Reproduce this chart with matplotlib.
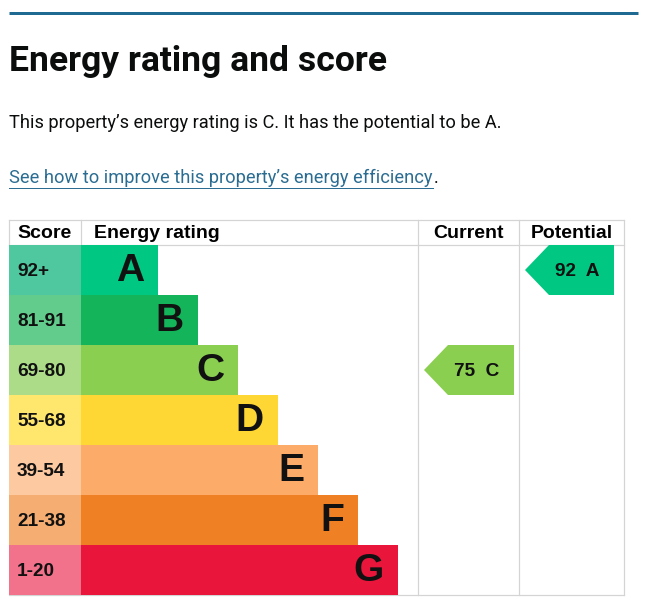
import matplotlib.pyplot as plt
from matplotlib.patches import Polygon

# data
bands = ['A', 'B', 'C', 'D', 'E', 'F', 'G']
score_ranges = ['92+', '81-91', '69-80', '55-68', '39-54', '21-38', '1-20']
band_low = [92, 81, 69, 55, 39, 21, 1]
bar_colors = ['#00c781', '#14b45a', '#8acf50', '#fed734', '#fcab69', '#ef8023', '#e9153b']
score_colors = ['#4fc8a0', '#62cc8c', '#acdc88', '#ffe66c', '#fdc9a0', '#f6ad72', '#f2728c']
current_score = 75
potential_score = 92
headers = ['Score', 'Energy rating', 'Current', 'Potential']

title = 'Energy rating and score'
summary = 'This property\u2019s energy rating is C. It has the potential to be A.'
link = 'See how to improve this property\u2019s energy efficiency'

W, H = 654, 609
PT = 0.72  # points per pixel at dpi 100

fig = plt.figure(figsize=(W / 100, H / 100), dpi=100)
ax = fig.add_axes([0, 0, 1, 1])
ax.set_xlim(0, W)
ax.set_ylim(H, 0)
ax.axis('off')

# top rule + page text
ax.plot([9, 638], [13, 13], color='#1f6a93', lw=3 * PT, solid_capstyle='butt')
ax.text(9, 61, title, fontsize=35.5 * PT, fontweight='bold', family='Roboto',
        va='center', ha='left', color='#0b0c0c')
ax.text(9, 123, summary, fontsize=18.3 * PT, family='Roboto', va='center', ha='left',
        color='#0b0c0c')
lt = ax.text(9, 178, link, fontsize=18.3 * PT, family='Roboto', va='center', ha='left',
             color='#2b6d92')
fig.canvas.draw()
bb = lt.get_window_extent().transformed(ax.transData.inverted())
link_end = max(bb.x0, bb.x1)
ax.text(link_end + 1, 178, '.', fontsize=18.3 * PT, family='Roboto', va='center',
        ha='left', color='#0b0c0c')
ax.plot([9, link_end], [188, 188], color='#2b6d92', lw=1 * PT)

# table layout
left, score_w, rating_end, cur_end, pot_end = 9, 72, 418, 519, 624
head_top, head_bot, row_h = 220, 245, 50
n = len(bands)
row_c = [head_bot + row_h * (i + 0.5) for i in range(n)]
bar_end = [158 + 40 * i for i in range(n)]

ax.barh(row_c, score_w, left=left, height=row_h, color=score_colors, lw=0)
ax.barh(row_c, [e - (left + score_w) for e in bar_end], left=left + score_w,
        height=row_h, color=bar_colors, lw=0)

tf = 'Liberation Sans'
for i in range(n):
    ax.text(17, row_c[i] + 1, score_ranges[i], fontsize=19 * PT, fontweight='bold',
            family=tf, va='center', ha='left', color='#111111')
    ax.text(bar_end[i] - 14, row_c[i] + 1, bands[i], fontsize=39 * PT, fontweight='bold',
            family=tf, va='center', ha='right', color='#111111')

# grid lines
gc, glw = '#d4d4d4', 1.2 * PT
bottom = head_bot + row_h * n
for y in (head_top, head_bot, bottom):
    ax.plot([left, pot_end], [y, y], color=gc, lw=glw, zorder=0)
for x in (rating_end, cur_end, pot_end):
    ax.plot([x, x], [head_top, bottom], color=gc, lw=glw, zorder=0)
for x in (left, left + score_w):
    ax.plot([x, x], [head_top, head_bot], color=gc, lw=glw, zorder=0)

hy = 233.5
ax.text(17, hy, headers[0], fontsize=19.5 * PT, fontweight='bold', family=tf, va='center', ha='left')
ax.text(94, hy, headers[1], fontsize=19.5 * PT, fontweight='bold', family=tf, va='center', ha='left')
ax.text((rating_end + cur_end) / 2, hy, headers[2], fontsize=19.5 * PT, fontweight='bold',
        family=tf, va='center', ha='center')
ax.text((cur_end + pot_end) / 2, hy, headers[3], fontsize=19.5 * PT, fontweight='bold',
        family=tf, va='center', ha='center')


def band_index(score):
    for i, lo in enumerate(band_low):
        if score >= lo:
            return i
    return n - 1


def rating_arrow(score, x0, x1):
    i = band_index(score)
    top, bot = head_bot + row_h * i, head_bot + row_h * (i + 1)
    tip = x0 + 6
    shoulder = tip + 24
    right = x1 - 5
    pts = [(tip, row_c[i]), (shoulder, top), (right, top), (right, bot), (shoulder, bot)]
    ax.add_patch(Polygon(pts, closed=True, color=bar_colors[i], lw=0))
    ax.text((shoulder + right) / 2 - 4, row_c[i] + 1, f'{score}  {bands[i]}', fontsize=19 * PT,
            fontweight='bold', family=tf, va='center', ha='center', color='#111111')


rating_arrow(current_score, rating_end, cur_end)
rating_arrow(potential_score, cur_end, pot_end - 5)

fig.savefig('out.png', dpi=100, facecolor='white')
